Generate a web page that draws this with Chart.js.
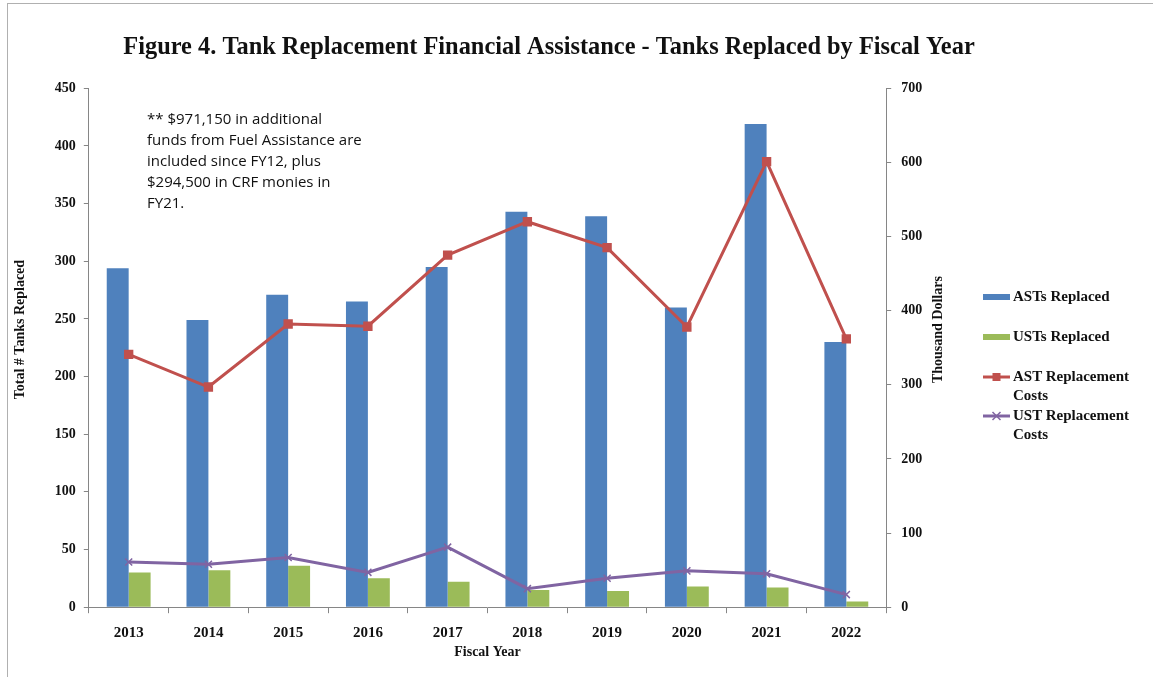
<!DOCTYPE html>
<html>
<head>
<meta charset="utf-8">
<script src="https://cdn.jsdelivr.net/npm/chart.js@4.4.0/dist/chart.umd.min.js"></script>
<style>
  body { margin: 0; background: #fff; }
  #frame { position: absolute; left: 7px; top: 3px; width: 1160px; height: 690px; border-left: 1px solid #b0b0b0; border-top: 1px solid #b0b0b0; }
  #wrap { position: absolute; left: 0; top: 0; width: 1098px; height: 677px; }
  #note { position: absolute; left: 147px; top: 108px; font-family: "Open Sans", sans-serif; font-size: 15px; line-height: 21px; color: #111; }
  #legend { position: absolute; left: 983px; top: 287px; font-family: "Liberation Serif", serif; font-weight: bold; font-size: 15px; color: #111; }
  .item { position: absolute; left: 0; white-space: nowrap; }
  .item .sw { position: absolute; left: 0; width: 27px; }
  .item .tx { position: absolute; left: 30px; top: 0; line-height: 19px; }
</style>
</head>
<body>
<div id="frame"></div>
<div id="wrap"><canvas id="chart"></canvas></div>
<div id="note">** $971,150 in additional<br>funds from Fuel Assistance are<br>included since FY12, plus<br>$294,500 in CRF monies in<br>FY21.</div>
<div id="legend">
  <div class="item" style="top:0px"><div class="sw" style="top:7px;height:6px;background:#4F81BD"></div><div class="tx">ASTs Replaced</div></div>
  <div class="item" style="top:40px"><div class="sw" style="top:7px;height:6px;background:#9BBB59"></div><div class="tx">USTs Replaced</div></div>
  <div class="item" style="top:80px"><div class="sw" style="top:0px;height:20px"><svg width="27" height="20"><line x1="0" y1="10" x2="27" y2="10" stroke="#C0504D" stroke-width="3"/><rect x="9.5" y="6" width="8" height="8" fill="#C0504D"/></svg></div><div class="tx">AST Replacement<br>Costs</div></div>
  <div class="item" style="top:119px"><div class="sw" style="top:0px;height:20px"><svg width="27" height="20"><line x1="0" y1="10" x2="27" y2="10" stroke="#8064A2" stroke-width="3"/><path d="M9.5 6 L17.5 14 M17.5 6 L9.5 14" stroke="#8064A2" stroke-width="1.5"/></svg></div><div class="tx">UST Replacement<br>Costs</div></div>
</div>
<script>
"use strict";
const years = ['2013', '2014', '2015', '2016', '2017', '2018', '2019', '2020', '2021', '2022'];
const astReplaced = [294, 249, 271, 265, 295, 343, 339, 260, 419, 230];
const ustReplaced = [30, 32, 36, 25, 22, 15, 14, 18, 17, 5];
const astCosts = [341, 297, 382, 379, 475, 520, 485, 378, 601, 362];
const ustCosts = [61, 58, 67, 47, 81, 25, 39, 49, 45, 17];
const leftTicks = [0, 50, 100, 150, 200, 250, 300, 350, 400, 450];
const rightTicks = [0, 100, 200, 300, 400, 500, 600, 700];

const serif = '"Liberation Serif", serif';
const axisGray = '#868686';
const leftTitle = 'Total # Tanks Replaced';
const rightTitle = 'Thousand Dollars';

// title is centred over the figure, not over the plot box
const titleShift = {
    id: 'titleShift',
    afterLayout(chart) {
        let t = chart.titleBlock;
        let d = 549 - (t.left + t.right) / 2;
        t.left += d;
        t.right += d;
    }
};

// both y titles read bottom-to-top and sit a little above the middle
const sideTitles = {
    id: 'sideTitles',
    afterDraw(chart) {
        let ctx = chart.ctx;
        let area = chart.chartArea;
        let yc = area.top + (area.bottom - area.top) * 0.465;
        ctx.save();
        ctx.font = 'bold 14px ' + serif;
        ctx.fillStyle = '#111';
        ctx.textAlign = 'center';
        ctx.textBaseline = 'middle';
        [[leftTitle, chart.scales.y.left + 7.5], [rightTitle, area.right + 52]].forEach(([txt, x]) => {
            ctx.save();
            ctx.translate(x, yc);
            ctx.rotate(-Math.PI / 2);
            ctx.fillText(txt, 0, 0);
            ctx.restore();
        });
        ctx.restore();
    }
};

document.addEventListener("DOMContentLoaded", function () {
    let ctx = document.getElementById('chart').getContext('2d');
    new Chart(ctx, {
        type: 'bar',
        data: {
            labels: years,
            datasets: [{
                    label: 'ASTs Replaced',
                    data: astReplaced,
                    backgroundColor: '#4F81BD',
                    yAxisID: 'y',
                    order: 2
                }, {
                    label: 'USTs Replaced',
                    data: ustReplaced,
                    backgroundColor: '#9BBB59',
                    yAxisID: 'y',
                    order: 2
                }, {
                    type: 'line',
                    label: 'AST Replacement Costs',
                    data: astCosts,
                    borderColor: '#C0504D',
                    backgroundColor: '#C0504D',
                    borderWidth: 3,
                    pointStyle: 'rect',
                    pointRadius: 4.5,
                    tension: 0,
                    yAxisID: 'y1',
                    order: 1
                }, {
                    type: 'line',
                    label: 'UST Replacement Costs',
                    data: ustCosts,
                    borderColor: '#8064A2',
                    backgroundColor: '#8064A2',
                    borderWidth: 3,
                    pointStyle: 'crossRot',
                    pointRadius: 5,
                    pointBorderWidth: 1.5,
                    tension: 0,
                    yAxisID: 'y1',
                    order: 1
                }]
        },
        options: {
            responsive: true,
            maintainAspectRatio: false,
            animation: false,
            categoryPercentage: 0.55,
            barPercentage: 1,
            layout: { padding: { left: 13, right: 141, top: 0, bottom: 16 } },
            plugins: {
                legend: { display: false },
                tooltip: { enabled: false },
                title: {
                    display: true,
                    text: 'Figure 4. Tank Replacement Financial Assistance - Tanks Replaced by Fiscal Year',
                    color: '#111',
                    font: { family: serif, size: 24.4, weight: 'bold' },
                    padding: { top: 33, bottom: 26 }
                }
            },
            scales: {
                x: {
                    border: { color: axisGray },
                    grid: { offset: true, drawOnChartArea: false, tickLength: 6, color: axisGray },
                    ticks: { color: '#111', padding: 11, font: { family: serif, size: 15, weight: 'bold' } },
                    title: { display: true, text: 'Fiscal Year', color: '#111', padding: { top: -9, bottom: 0 }, font: { family: serif, size: 14, weight: 'bold' } }
                },
                y: {
                    position: 'left',
                    min: 0,
                    max: 450,
                    afterBuildTicks: axis => { axis.ticks = leftTicks.map(v => ({ value: v })); },
                    border: { color: axisGray },
                    grid: { drawOnChartArea: false, tickLength: 5, color: axisGray },
                    ticks: { color: '#111', padding: 8, font: { family: serif, size: 14, weight: 'bold' } },
                    title: { display: true, text: leftTitle, color: 'rgba(0,0,0,0)', padding: { top: 0, bottom: 17 }, font: { family: serif, size: 14, weight: 'bold' } }
                },
                y1: {
                    position: 'right',
                    min: 0,
                    max: 700,
                    afterBuildTicks: axis => { axis.ticks = rightTicks.map(v => ({ value: v })); },
                    border: { color: axisGray },
                    grid: { drawOnChartArea: false, tickLength: 5, color: axisGray },
                    ticks: { color: '#111', padding: 10, font: { family: serif, size: 14, weight: 'bold' } },
                    title: { display: true, text: rightTitle, color: 'rgba(0,0,0,0)', padding: { top: 8, bottom: 0 }, font: { family: serif, size: 14, weight: 'bold' } }
                }
            }
        },
        plugins: [titleShift, sideTitles]
    });
});
</script>
</body>
</html>
